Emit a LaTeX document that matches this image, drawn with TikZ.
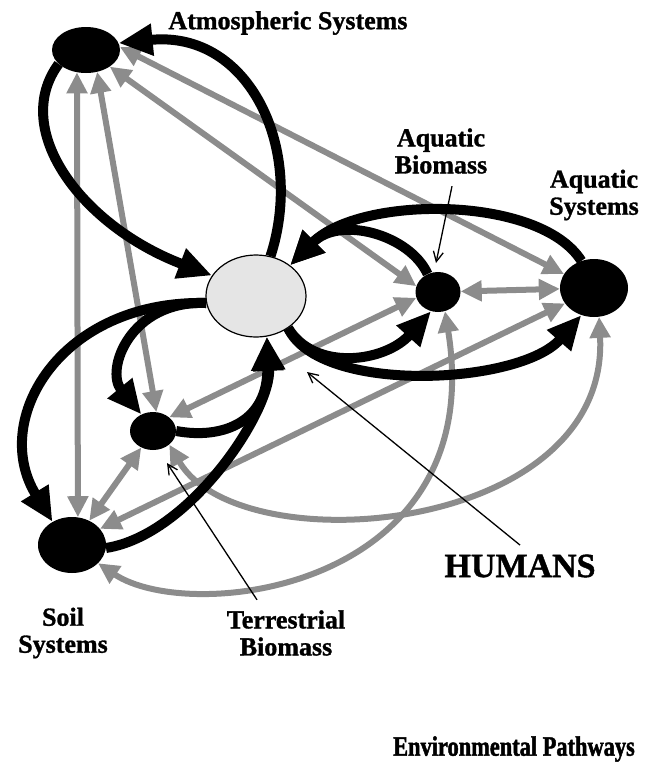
\documentclass[tikz,border=0pt]{standalone}
\usepackage{fontspec}
\setmainfont{Liberation Serif}[BoldFeatures={FakeBold=1.2}]
\newfontfamily\captionfont{Liberation Serif}[FakeStretch=0.8, BoldFeatures={FakeBold=1.6}]
\usepackage{tikz}
\usetikzlibrary{arrows.meta,shapes.geometric,backgrounds}

\definecolor{flowgray}{gray}{0.55}
\definecolor{humanfill}{gray}{0.9}

\begin{document}
\begin{tikzpicture}[
  x=1pt, y=-1pt,
  pool/.style={ellipse, fill=black, inner sep=0pt},
  human/.style={ellipse, draw, line width=1.2pt, fill=humanfill, inner sep=0pt, minimum width=100pt, minimum height=82pt},
  lbl/.style={align=center, font=\bfseries\fontsize{26}{27}\selectfont},
  flow/.style={-{Triangle[length=34pt,width=30pt]}, line width=10pt},
  link/.style={{Triangle[length=21pt,width=20pt]}-{Triangle[length=21pt,width=20pt]}, draw=flowgray, line width=6pt},
  pointer/.style={-{Straight Barb[length=10pt,width=10pt]}, line width=1.3pt}
]
\useasboundingbox (0,0) rectangle (655,764);

% compartments
\node[human] (h) at (256,296) {};
\node[pool, minimum width=68pt, minimum height=46pt] (atm) at (86,50) {};
\node[pool, minimum width=45pt, minimum height=40pt] (ab) at (438,292) {};
\node[pool, minimum width=68pt, minimum height=58pt] (aqs) at (594,288) {};
\node[pool, minimum width=46pt, minimum height=38pt] (tb) at (153,431) {};
\node[pool, minimum width=68pt, minimum height=56pt] (soil) at (72,545) {};

% labels
\node[lbl] (lblatm) at (288,23) {Atmospheric Systems};
\node[lbl] (lblab) at (441,151) {Aquatic\\Biomass};
\node[lbl] (lblaqs) at (594,195) {Aquatic\\Systems};
\node[lbl] (lblsoil) at (63,633) {Soil\\Systems};
\node[lbl] (lbltb) at (286,633) {Terrestrial\\Biomass};
\node[font=\bfseries\fontsize{34}{36}\selectfont] (lblh) at (520,566) {HUMANS};
\node[font=\captionfont\bfseries\fontsize{28}{30}\selectfont] (caption) at (514,749) {Environmental Pathways};

\coordinate (abtip) at (436,263);
\coordinate (htip) at (307,372);
\coordinate (tbtip) at (167,463);

\begin{pgfonlayer}{background}
% grey exchanges
\draw[link] (atm.248) -- (soil.78);
\draw[link] (atm.-63) -- (tb.80);
\draw[link] (atm.-35) -- (ab.165);
\draw[link] (atm.5) -- (aqs.155);
\draw[link] (ab) -- (aqs);
\draw[link] (tb.40) -- (ab.195);
\draw[link] (soil.30) -- (aqs.208);
\draw[link] (tb) -- (soil);
\draw[link] (tb.-40) .. controls (240,565) and (610,535) .. (aqs.-80);
\draw[link] (soil.-35) .. controls (190,625) and (490,590) .. (ab.-70);

% human loops
\draw[flow] (h.70) .. controls (305,150) and (250,30) .. (atm.12);
\draw[flow] (atm.207) .. controls (10,130) and (82,226) .. (h.155);
\draw[flow] (aqs.115) .. controls (540,195) and (360,195) .. (h.42);
\draw[flow] (ab.120) .. controls (410,235) and (340,215) .. (h.42);
\draw[flow] (h.-45) .. controls (320,395) and (520,385) .. (aqs.-115);
\draw[flow] (h.-45) .. controls (315,372) and (385,362) .. (ab.-110);
\draw[flow] (h.188) .. controls (60,300) and (-10,420) .. (soil.130);
\draw[flow] (soil.-5) .. controls (190,535) and (272,410) .. (h.-75);
\draw[flow] (h.188) .. controls (130,300) and (105,370) .. (tb.125);
\draw[flow] (tb.0) .. controls (225,440) and (268,420) .. (h.-75);
\end{pgfonlayer}

% pointers
\draw[pointer] ([xshift=11pt,yshift=-9pt]lblab.south) -- (abtip);
\draw[pointer] ([yshift=6pt]lblh.north) -- (htip);
\draw[pointer] ([xshift=-29pt,yshift=7pt]lbltb.north) -- (tbtip);
\end{tikzpicture}
\end{document}
